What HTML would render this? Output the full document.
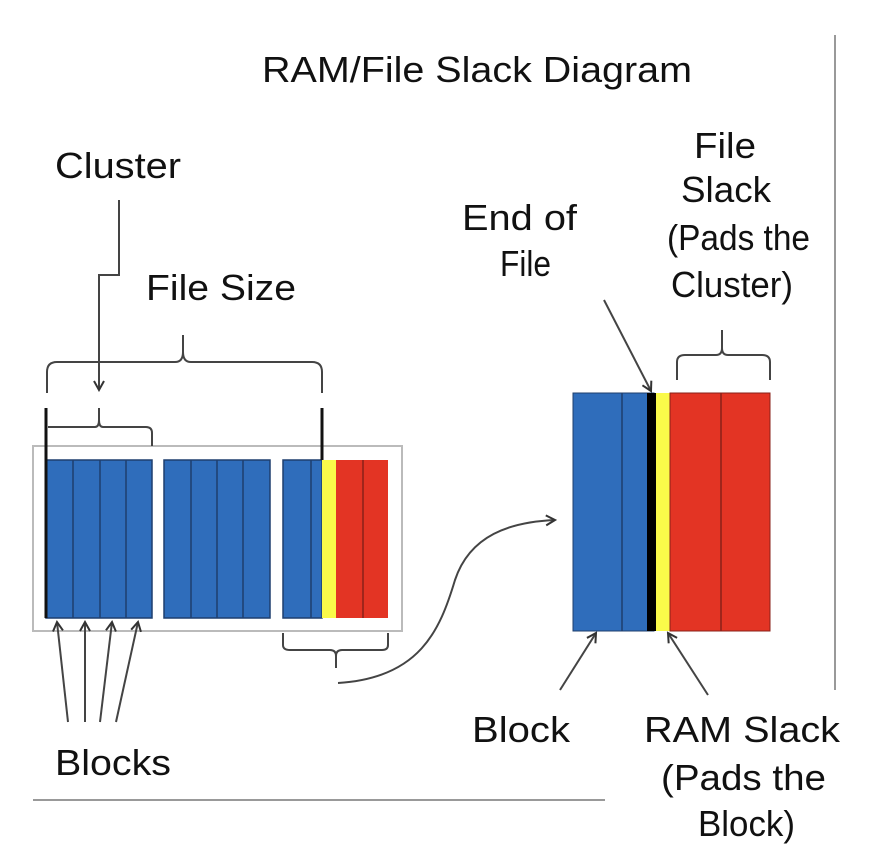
<!DOCTYPE html>
<html><head><style>
body{margin:0;background:#fff}
svg text{font-family:"Liberation Sans",Arial,sans-serif;fill:#111}
</style></head><body>
<svg width="890" height="852" viewBox="0 0 890 852" xmlns="http://www.w3.org/2000/svg">
<defs><marker id="a" markerWidth="12" markerHeight="12" refX="10" refY="6" orient="auto" markerUnits="userSpaceOnUse"><path d="M1,1 L10,6 L1,11" fill="none" stroke="#333" stroke-width="2"/></marker></defs>
<g font-size="36" lengthAdjust="spacingAndGlyphs">
<text x="262" y="82" textLength="430" lengthAdjust="spacingAndGlyphs">RAM/File Slack Diagram</text>
<text x="55" y="178" textLength="126" lengthAdjust="spacingAndGlyphs">Cluster</text>
<text x="146" y="300" textLength="150" lengthAdjust="spacingAndGlyphs">File Size</text>
<text x="462" y="230" textLength="115" lengthAdjust="spacingAndGlyphs">End of</text>
<text x="500" y="276" textLength="51" lengthAdjust="spacingAndGlyphs">File</text>
<text x="694" y="158" textLength="62" lengthAdjust="spacingAndGlyphs">File</text>
<text x="681" y="202" textLength="90" lengthAdjust="spacingAndGlyphs">Slack</text>
<text x="667" y="250" textLength="143" lengthAdjust="spacingAndGlyphs">(Pads the</text>
<text x="671" y="297" textLength="122" lengthAdjust="spacingAndGlyphs">Cluster)</text>
<text x="472" y="742" textLength="98" lengthAdjust="spacingAndGlyphs">Block</text>
<text x="55" y="775" textLength="116" lengthAdjust="spacingAndGlyphs">Blocks</text>
<text x="644" y="742" textLength="196" lengthAdjust="spacingAndGlyphs">RAM Slack</text>
<text x="661" y="790" textLength="165" lengthAdjust="spacingAndGlyphs">(Pads the</text>
<text x="698" y="836" textLength="97" lengthAdjust="spacingAndGlyphs">Block)</text>
</g>
<line x1="835" y1="35" x2="835" y2="690" stroke="#999" stroke-width="2"/>
<line x1="33" y1="800" x2="605" y2="800" stroke="#999" stroke-width="2"/>
<rect x="33" y="446" width="369" height="185" fill="#fff" stroke="#bbb" stroke-width="2"/>
<g stroke="#1f3f6e" stroke-width="1.5">
<rect x="46" y="460" width="106" height="158" fill="#2f6dbb"/>
<rect x="164" y="460" width="106" height="158" fill="#2f6dbb"/>
<rect x="283" y="460" width="39" height="158" fill="#2f6dbb"/>
<line x1="73" y1="460" x2="73" y2="618"/><line x1="100" y1="460" x2="100" y2="618"/><line x1="126" y1="460" x2="126" y2="618"/>
<line x1="191" y1="460" x2="191" y2="618"/><line x1="217" y1="460" x2="217" y2="618"/><line x1="243" y1="460" x2="243" y2="618"/>
<line x1="311" y1="460" x2="311" y2="618"/>
</g>
<rect x="322" y="460" width="14" height="158" fill="#fafa4a"/>
<rect x="336" y="460" width="52" height="158" fill="#e33424"/>
<line x1="363" y1="460" x2="363" y2="618" stroke="#8a2018" stroke-width="1.5"/>
<line x1="46" y1="408" x2="46" y2="618" stroke="#111" stroke-width="3"/>
<line x1="322" y1="408" x2="322" y2="460" stroke="#111" stroke-width="3"/>
<g fill="none" stroke="#444" stroke-width="2">
<path d="M47,393 V372 Q47,362 57,362 H175 Q183,362 183,352 V335 M183,352 Q183,362 191,362 H312 Q322,362 322,372 V393"/>
<path d="M48,427 H95 Q99,427 99,420 V408 M99,420 Q99,427 103,427 H146 Q152,427 152,433 V446"/>
<path d="M119,200 V275 H99 V390" marker-end="url(#a)"/>
<path d="M283,633 V645 Q283,650 290,650 H330 Q336,650 336,656 V668 M336,656 Q336,650 342,650 H382 Q388,650 388,645 V633"/>
<path d="M338,683 C420,678 440,630 455,580 C470,535 510,522 555,520" marker-end="url(#a)"/>
<path d="M677,380 V362 Q677,355 685,355 H716 Q722,355 722,348 V330 M722,348 Q722,355 728,355 H762 Q770,355 770,362 V380"/>
<path d="M604,300 L651,391" marker-end="url(#a)"/>
<path d="M560,690 L596,633" marker-end="url(#a)"/>
<path d="M708,695 L668,633" marker-end="url(#a)"/>
<path d="M68,722 L57,622" marker-end="url(#a)"/>
<path d="M85,722 L85,622" marker-end="url(#a)"/>
<path d="M100,722 L112,622" marker-end="url(#a)"/>
<path d="M116,722 L138,622" marker-end="url(#a)"/>
</g>
<rect x="573" y="393" width="81" height="238" fill="#2f6dbb" stroke="#1f3f6e"/>
<line x1="622" y1="393" x2="622" y2="631" stroke="#1f3f6e" stroke-width="1.5"/>
<rect x="647" y="393" width="9" height="238" fill="#000"/>
<rect x="656" y="393" width="14" height="238" fill="#fafa4a"/>
<rect x="670" y="393" width="100" height="238" fill="#e33424" stroke="#8a2018"/>
<line x1="721" y1="393" x2="721" y2="631" stroke="#8a2018" stroke-width="1.5"/>
</svg>
</body></html>
